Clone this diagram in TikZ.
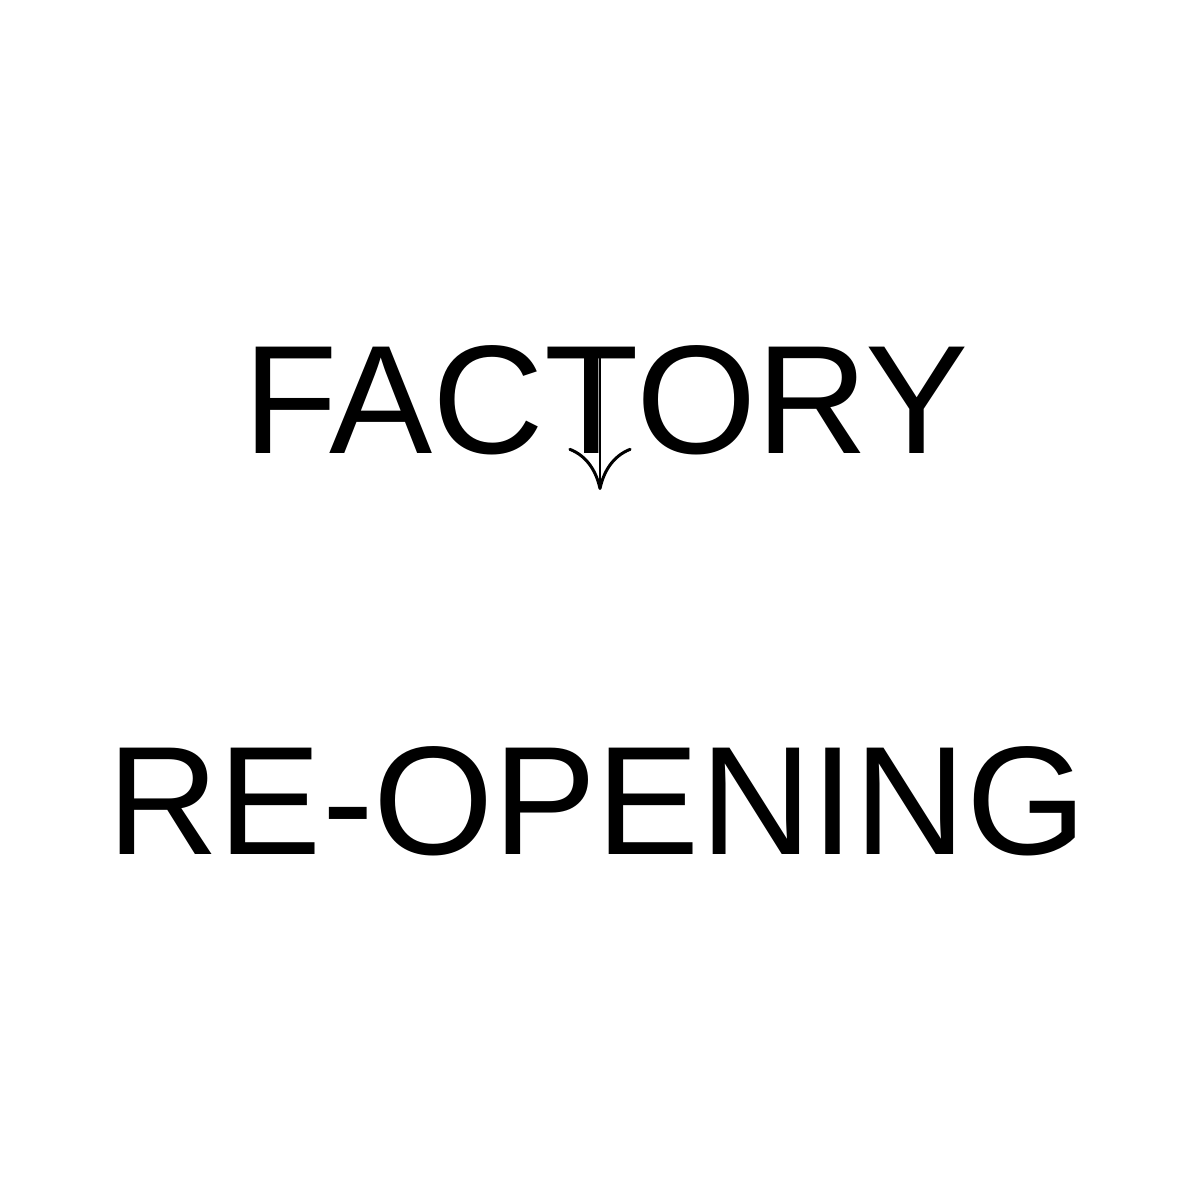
\documentclass[tikz,border=0pt]{standalone}
\usepackage{fontspec}
\setmainfont{Liberation Sans}
\usetikzlibrary{arrows.meta}
\begin{document}
\begin{tikzpicture}[word/.style={inner sep=0pt,font=\fontsize{44}{50}\selectfont}]
        \useasboundingbox (0,0) rectangle (12,12);
        \node[word] (factory) at (6.06, 8.00) {FACTORY};
        \node[word] (reopen) at (5.97, 3.99) {RE-OPENING};
        \coordinate (top) at (6.0, 8.47);
        \coordinate (bot) at (6.0, 7.10);
        \draw[line width=0.85pt,-{To[length=12pt,width=18pt]}] (top) -- (bot);
    \end{tikzpicture}
\end{document}
